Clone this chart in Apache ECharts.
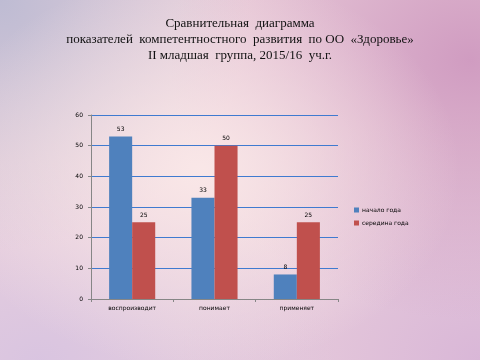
<!DOCTYPE html>
<html><head><meta charset="utf-8">
<script src="https://cdn.jsdelivr.net/npm/echarts@6/dist/echarts.min.js"></script>
<style>
html,body{margin:0;padding:0;}
#c{width:480px;height:360px;
background:
radial-gradient(ellipse 260px 200px at 200px 170px, rgba(250,232,232,0.95), rgba(250,232,232,0) 100%),
radial-gradient(ellipse 300px 260px at 470px 60px, rgba(205,150,190,0.9), rgba(205,150,190,0) 100%),
radial-gradient(ellipse 250px 250px at 0px 0px, rgba(185,185,210,0.9), rgba(185,185,210,0) 100%),
radial-gradient(ellipse 300px 200px at 40px 360px, rgba(215,195,225,0.9), rgba(215,195,225,0) 100%),
radial-gradient(ellipse 300px 250px at 480px 360px, rgba(215,180,215,0.9), rgba(215,180,215,0) 100%),
#ecd2dc;}
</style></head>
<body><div id="c"></div>
<script>
const titleLines = ["Сравнительная  диаграмма", "показателей  компетентностного  развития  по ОО  «Здоровье»", "II младшая  группа, 2015/16  уч.г."];
const categories = ["воспроизводит", "понимает", "применяет"];
const seriesNames = ["начало года", "середина года"];
const startValues = [53, 33, 8];
const midValues = [25, 50, 25];
const yTicks = [0, 10, 20, 30, 40, 50, 60];

const chart = echarts.init(document.getElementById('c'), null, {renderer: 'canvas'});
const lbl = {show: true, position: 'top', fontSize: 6, color: '#000', fontFamily: 'DejaVu Sans', distance: 4};
chart.setOption({
  backgroundColor: 'transparent',
  animation: false,
  title: {
    text: titleLines.join('\n'), left: 'center', top: 11,
    textStyle: {fontFamily: 'Liberation Serif', fontSize: 13, fontWeight: 'normal', color: '#111', lineHeight: 16}
  },
  grid: {left: 91, right: 142, top: 115, bottom: 61},
  legend: {
    data: seriesNames, orient: 'vertical', left: 349, top: 202,
    itemWidth: 5, itemHeight: 5, itemGap: 7, icon: 'rect',
    textStyle: {fontSize: 6, color: '#000', fontFamily: 'DejaVu Sans', padding: [0,0,0,-2]}
  },
  xAxis: {
    type: 'category', data: categories,
    axisLine: {lineStyle: {color: '#868686', width: 1}},
    axisTick: {show: true, length: 3, lineStyle: {color: '#868686'}},
    axisLabel: {fontSize: 6, color: '#000', fontFamily: 'DejaVu Sans', margin: 6}
  },
  yAxis: {
    type: 'value', min: yTicks[0], max: yTicks[yTicks.length-1], interval: 10,
    axisLine: {show: true, lineStyle: {color: '#868686', width: 1}},
    axisTick: {show: true, length: 3, lineStyle: {color: '#868686'}},
    axisLabel: {fontSize: 6, color: '#000', fontFamily: 'DejaVu Sans', margin: 8},
    splitLine: {lineStyle: {color: '#3f7ad0', width: 1.2}}
  },
  series: [
    {name: seriesNames[0], type: 'bar', data: startValues, itemStyle: {color: '#4f81bd'}, barGap: '0%', barCategoryGap: '44%', label: lbl},
    {name: seriesNames[1], type: 'bar', data: midValues, itemStyle: {color: '#c0504d'}, label: lbl}
  ]
});
</script></body></html>
